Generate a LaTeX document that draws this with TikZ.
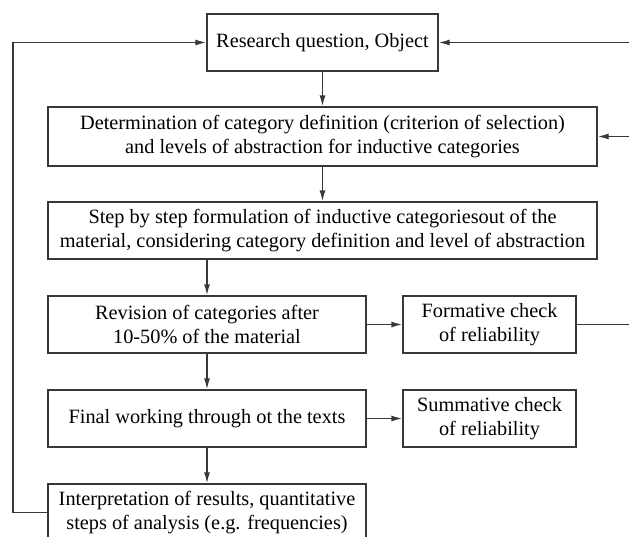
\documentclass[tikz,border=0pt]{standalone}
\usepackage{fontspec}
\setmainfont{Liberation Serif}
\usetikzlibrary{arrows.meta}
\begin{document}
\begin{tikzpicture}[x=1pt,y=-1pt,
  box/.style={draw=black!78,line width=1.4pt,rectangle,align=center,inner sep=0pt,
    font=\fontsize{20.3}{23.5}\selectfont,text=black},
  conn/.style={draw=black!78,line width=1.4pt},
  arr/.style={conn,-{Latex[length=11pt,width=6pt]}}]
\useasboundingbox (0,0) rectangle (629,536);
\node[box,minimum width=231pt,minimum height=57pt] (b1) at (322.5,42.5) {Research question, Object};
\node[box,minimum width=549pt,minimum height=59pt] (b2) at (322.5,136.5) {Determination of category definition (criterion of selection)\\and levels of abstraction for inductive categories};
\node[box,minimum width=549pt,minimum height=57pt] (b3) at (322.5,230.5) {Step by step formulation of inductive categoriesout of the\\material, considering category definition and level of abstraction};
\node[box,minimum width=318pt,minimum height=57pt] (b4) at (207,324.5) {Revision of categories after\\10-50\% of the material};
\node[box,minimum width=173pt,minimum height=57pt] (b5) at (489.5,324.5) {Formative check\\of reliability};
\node[box,minimum width=318pt,minimum height=57pt] (b6) at (207,418.5) {Final working through ot the texts};
\node[box,minimum width=173pt,minimum height=57pt] (b7) at (489.5,418.5) {Summative check\\of reliability};
\node[box,minimum width=318pt,minimum height=57pt] (b8) at (207,512.5) {Interpretation of results, quantitative\\steps of analysis (e.g. frequencies)};
\coordinate (R) at (645,0);
\coordinate (L) at (13,0);
\draw[arr] (b1) -- (b2);
\draw[arr] (b2) -- (b3);
\draw[arr] (b4.north |- b3.south) -- (b4.north);
\draw[arr] (b4) -- (b6);
\draw[arr] (b6) -- (b8);
\draw[arr] (b4) -- (b5);
\draw[arr] (b6) -- (b7);
\draw[conn] (b5.east) -- (R |- b5.east) -- (R |- b1.east);
\draw[arr] (R |- b1.east) -- (b1.east);
\draw[arr] (R |- b2.east) -- (b2.east);
\draw[arr] (b8.west) -- (L |- b8.west) -- (L |- b1.west) -- (b1.west);
\end{tikzpicture}
\end{document}
